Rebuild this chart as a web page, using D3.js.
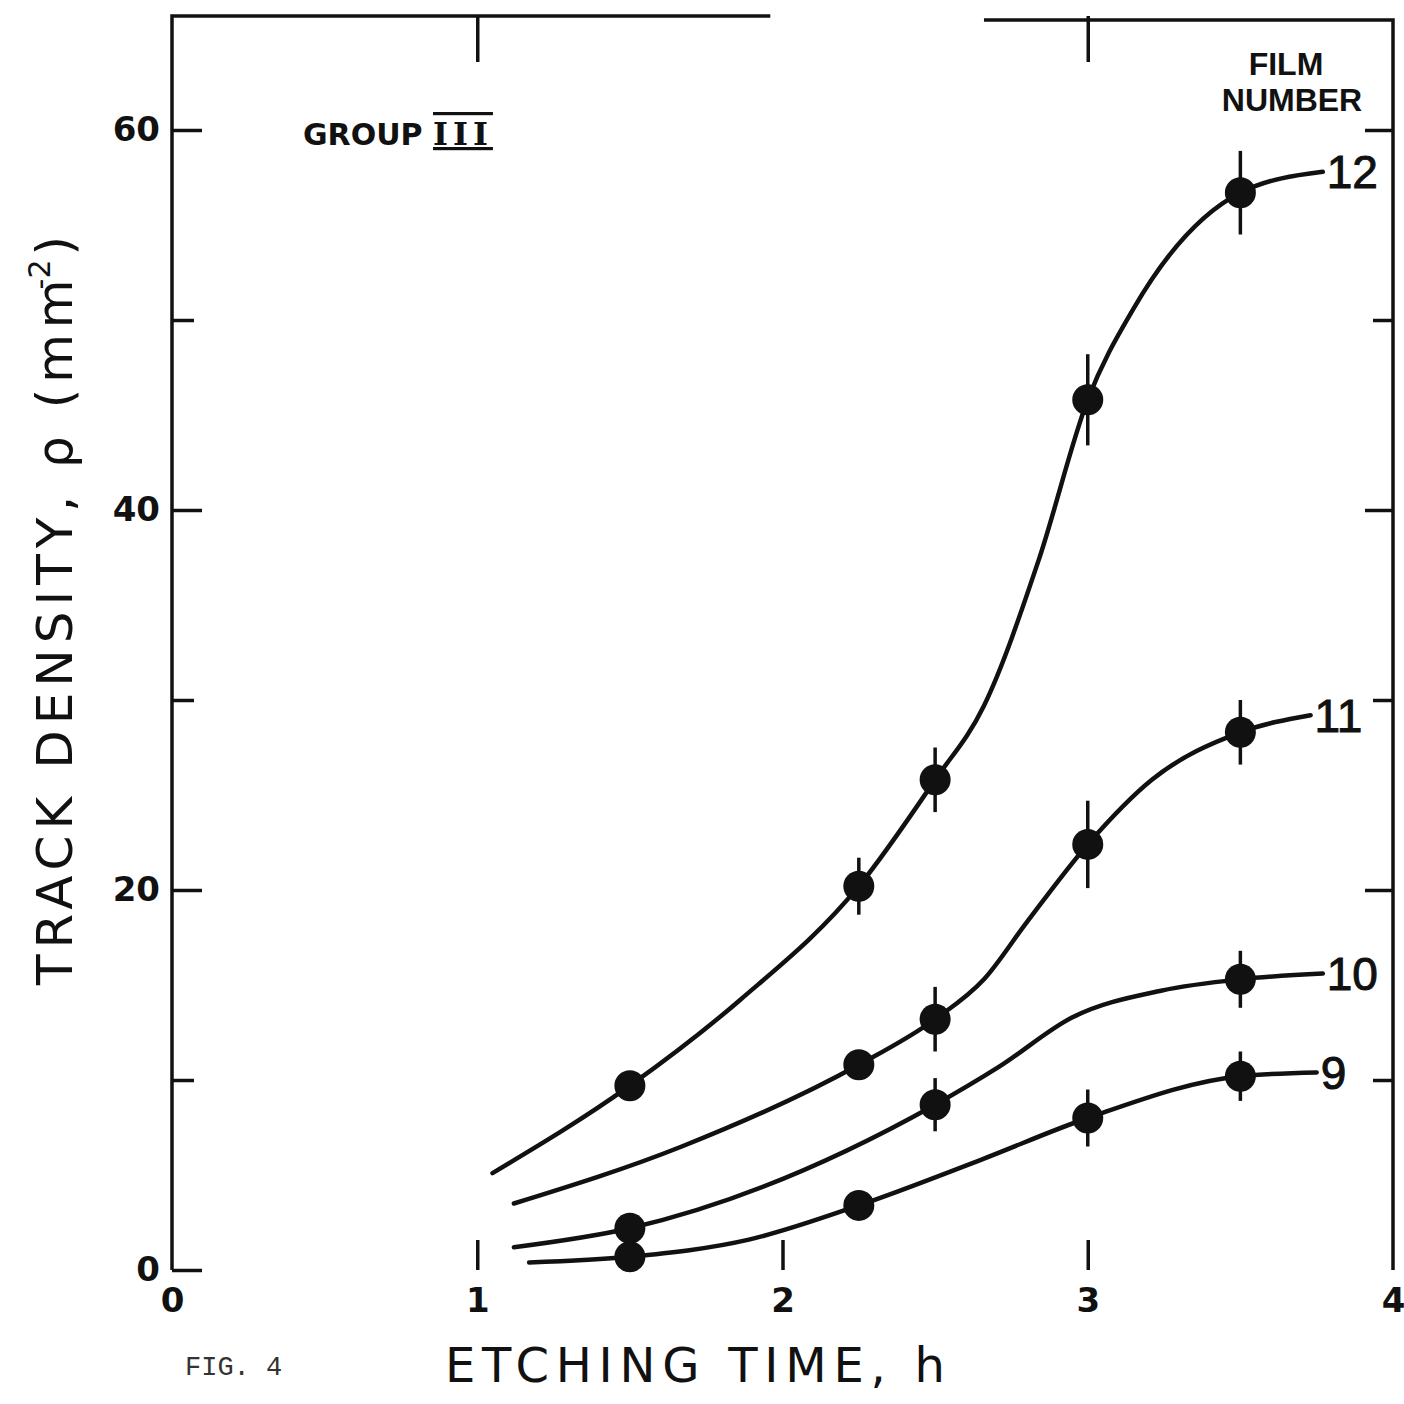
<!DOCTYPE html>
<html>
<head>
<meta charset="utf-8">
<script src="https://cdn.jsdelivr.net/npm/d3@7"></script>
<style>
  body { margin: 0; background: #fff; }
  svg { display: block; }
  .tick text { font-family: "DejaVu Sans", sans-serif; font-weight: bold; font-size: 34px; fill: #111; }
  .tick line, .domain { stroke: #111; stroke-width: 3.5; }
</style>
</head>
<body>
<div id="chart"></div>
<script>
// film numbers and measured points [time h, density mm^-2, error half-height]
var films = ['12', '11', '10', '9'];
var film12Points = [[1.5, 9.7, 0], [2.25, 20.2, 1.5], [2.5, 25.8, 1.7], [3.0, 45.8, 2.4], [3.5, 56.7, 2.2]];
var film11Points = [[2.25, 10.8, 0], [2.5, 13.2, 1.7], [3.0, 22.4, 2.3], [3.5, 28.3, 1.7]];
var film10Points = [[1.5, 2.2, 0], [2.5, 8.7, 1.4], [3.5, 15.3, 1.5]];
var film9Points = [[1.5, 0.7, 0], [2.25, 3.4, 0], [3.0, 8.0, 1.5], [3.5, 10.2, 1.3]];

// hand drawn curves
var film12Curve = [[1.05, 5.1], [1.5, 9.7], [1.86, 14.2], [2.25, 20.2], [2.5, 25.8], [2.66, 29.7],
  [2.84, 37.4], [3.0, 45.8], [3.15, 50.6], [3.5, 56.7], [3.77, 57.8]];
var film11Curve = [[1.12, 3.5], [1.67, 6.5], [2.25, 10.8], [2.5, 13.2], [2.66, 15.3], [2.8, 18.3],
  [3.0, 22.4], [3.21, 25.8], [3.5, 28.3], [3.73, 29.2]];
var film10Curve = [[1.12, 1.2], [1.5, 2.2], [2.5, 8.7], [2.71, 10.7], [2.95, 13.3],
  [3.24, 14.7], [3.5, 15.3], [3.77, 15.6]];
var film9Curve = [[1.17, 0.4], [1.5, 0.7], [1.89, 1.6], [2.25, 3.4], [2.65, 5.8], [3.0, 8.0],
  [3.5, 10.2], [3.75, 10.4]];

var xTicks = [0, 1, 2, 3, 4];
var yMajorTicks = [0, 20, 40, 60];
var yMinorTicks = [10, 30, 50];
var topTicks = [1, 3];

var series = [
  {name: films[0], points: film12Points, curve: film12Curve},
  {name: films[1], points: film11Points, curve: film11Curve},
  {name: films[2], points: film10Points, curve: film10Curve},
  {name: films[3], points: film9Points, curve: film9Curve}
];

var margin = {top: 16, right: 11, bottom: 134, left: 172};
var width = 1404 - margin.left - margin.right;
var height = 1404 - margin.top - margin.bottom;

var svg = d3.select('#chart').append('svg')
  .attr('width', 1404)
  .attr('height', 1404)
  .append('g')
  .attr('transform', 'translate(' + margin.left + ',' + margin.top + ')');

var x = d3.scaleLinear().domain([0, 4]).range([0, width]);
var y = d3.scaleLinear().domain([0, 66]).range([height, 0]);

// Frame: the top rule is broken over x = 2 in the original
svg.append('path')
  .attr('fill', 'none')
  .attr('stroke', '#111')
  .attr('stroke-width', 3.5)
  .attr('d', 'M' + x(0) + ',' + y(0) + 'V' + y(66) + 'H' + x(1.96)
    + 'M' + x(2.66) + ',' + (y(66) + 4) + 'H' + x(4) + 'V' + y(0));

// Left axis
svg.append('g')
  .call(d3.axisLeft(y).tickValues(yMajorTicks).tickSize(-30).tickSizeOuter(0).tickPadding(12).tickFormat(d3.format('d')))
  .call(function(g) { g.select('.domain').remove(); });
svg.append('g')
  .call(d3.axisLeft(y).tickValues(yMinorTicks).tickSize(-22).tickSizeOuter(0).tickFormat(''))
  .call(function(g) { g.select('.domain').remove(); });

// Right axis
svg.append('g')
  .attr('transform', 'translate(' + width + ',0)')
  .call(d3.axisRight(y).tickValues(yMajorTicks.filter(function(d) { return d > 0; })).tickSize(-28).tickFormat(''))
  .call(function(g) { g.select('.domain').remove(); });
svg.append('g')
  .attr('transform', 'translate(' + width + ',0)')
  .call(d3.axisRight(y).tickValues(yMinorTicks).tickSize(-20).tickFormat(''))
  .call(function(g) { g.select('.domain').remove(); });

// Bottom axis
svg.append('g')
  .attr('transform', 'translate(0,' + height + ')')
  .call(d3.axisBottom(x).tickValues(xTicks).tickSize(-30).tickSizeOuter(0).tickPadding(18).tickFormat(d3.format('d')))
  .call(function(g) {
    g.select('.domain').remove();
    g.selectAll('.tick line').filter(function(d) { return d === 0 || d === 4; }).remove();
  });

// Top axis
svg.append('g')
  .call(d3.axisTop(x).tickValues(topTicks).tickSize(-46).tickFormat(''))
  .call(function(g) { g.select('.domain').remove(); });

// Curves
var line = d3.line()
  .x(function(d) { return x(d[0]); })
  .y(function(d) { return y(d[1]); })
  .curve(d3.curveMonotoneX);

svg.selectAll('.curve')
  .data(series)
  .enter().append('path')
  .attr('class', 'curve')
  .attr('fill', 'none')
  .attr('stroke', '#111')
  .attr('stroke-width', 4.5)
  .attr('stroke-linecap', 'round')
  .attr('d', function(d) { return line(d.curve); });

// Error bars and points
var pts = svg.selectAll('.film')
  .data(series)
  .enter().append('g')
  .attr('class', 'film');

pts.selectAll('.err')
  .data(function(d) { return d.points.filter(function(p) { return p[2] > 0; }); })
  .enter().append('line')
  .attr('x1', function(p) { return x(p[0]); })
  .attr('x2', function(p) { return x(p[0]); })
  .attr('y1', function(p) { return y(p[1] - p[2]); })
  .attr('y2', function(p) { return y(p[1] + p[2]); })
  .attr('stroke', '#111')
  .attr('stroke-width', 3.5);

pts.selectAll('circle')
  .data(function(d) { return d.points; })
  .enter().append('circle')
  .attr('cx', function(p) { return x(p[0]); })
  .attr('cy', function(p) { return y(p[1]); })
  .attr('r', 15.5)
  .attr('fill', '#111');

// Film number labels at curve ends
svg.selectAll('.flabel')
  .data(series)
  .enter().append('text')
  .attr('class', 'flabel')
  .attr('x', function(d) { var last = d.curve[d.curve.length - 1]; return x(last[0]) + 4; })
  .attr('y', function(d) { var last = d.curve[d.curve.length - 1]; return y(last[1]); })
  .attr('dy', '0.36em')
  .style('font-family', '"Liberation Sans", sans-serif')
  .style('font-size', '46px')
  .style('fill', '#111')
  .style('stroke', '#111')
  .style('stroke-width', 1)
  .text(function(d) { return d.name; });

// Annotations
var group = svg.append('text')
  .attr('x', 131)
  .attr('y', 129)
  .style('font-family', '"DejaVu Sans", sans-serif')
  .style('font-weight', 'bold')
  .style('font-size', '30px')
  .style('fill', '#111');
group.append('tspan').text('GROUP ');
group.append('tspan')
  .style('font-family', '"DejaVu Serif", serif')
  .style('font-size', '32px')
  .style('letter-spacing', '5px')
  .style('text-decoration', 'underline overline')
  .text('III');

svg.append('text')
  .attr('x', 1114)
  .attr('y', 59)
  .attr('text-anchor', 'middle')
  .style('font-family', '"Liberation Sans", sans-serif')
  .style('font-weight', 'bold')
  .style('font-size', '32px')
  .style('fill', '#111')
  .text('FILM');
svg.append('text')
  .attr('x', 1120)
  .attr('y', 95)
  .attr('text-anchor', 'middle')
  .style('font-family', '"Liberation Sans", sans-serif')
  .style('font-weight', 'bold')
  .style('font-size', '32px')
  .style('fill', '#111')
  .text('NUMBER');

// Axis titles
svg.append('text')
  .attr('x', 273)
  .attr('y', height + 112)
  .attr('textLength', 500)
  .attr('lengthAdjust', 'spacing')
  .style('font-family', '"DejaVu Sans", sans-serif')
  .style('font-size', '48px')
  .style('fill', '#111')
  .text('ETCHING TIME, h');

var yTitle = svg.append('text')
  .attr('transform', 'translate(-100,' + (height - 285) + ') rotate(-90)')
  .style('font-family', '"DejaVu Sans", sans-serif')
  .style('font-size', '50px')
  .style('letter-spacing', '6px')
  .style('fill', '#111');
yTitle.append('tspan').text('TRACK DENSITY, ρ (mm');
yTitle.append('tspan').attr('dy', -22).attr('dx', -16).style('font-size', '30px').style('letter-spacing', '0px').text('-2');
yTitle.append('tspan').attr('dy', 22).attr('dx', 4).text(')');

svg.append('text')
  .attr('x', 13)
  .attr('y', height + 105)
  .style('font-family', '"Liberation Mono", monospace')
  .style('font-size', '27px')
  .style('fill', '#333')
  .text('FIG. 4');
</script>
</body>
</html>
